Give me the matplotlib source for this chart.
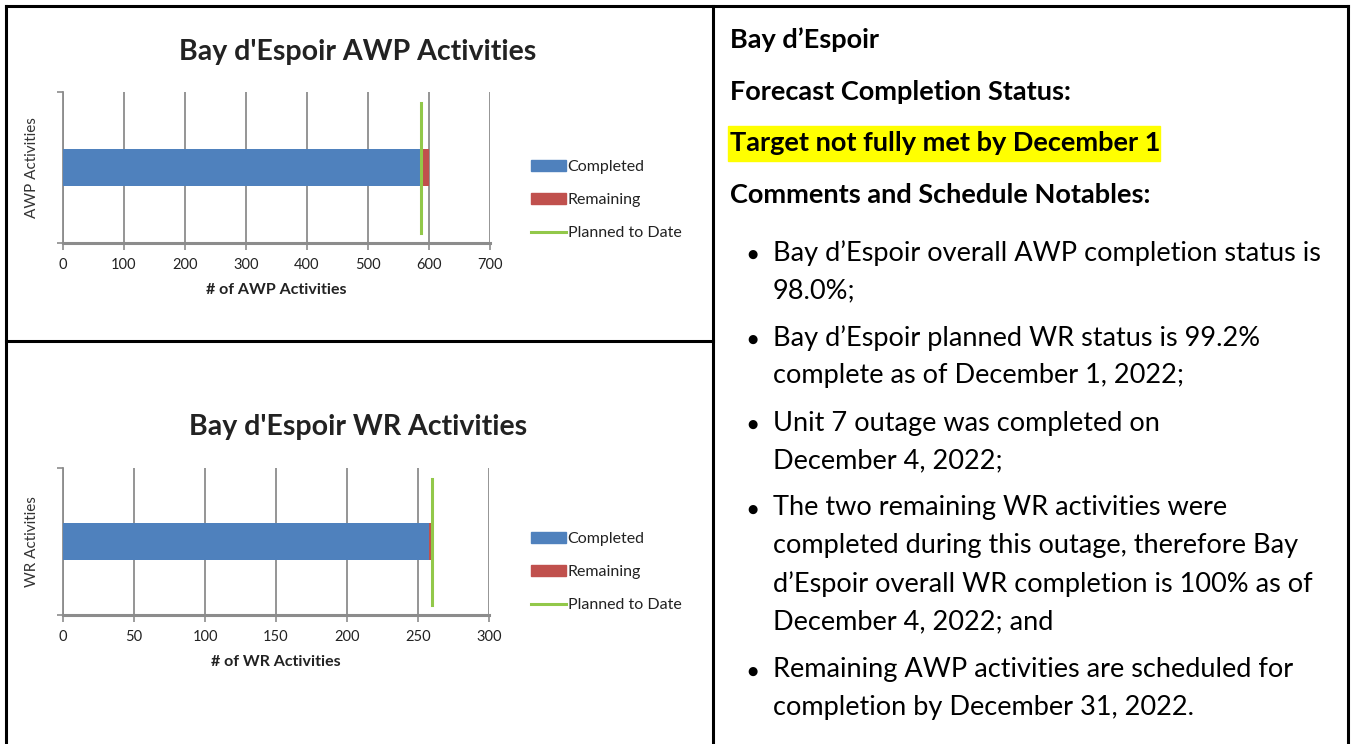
import numpy as np
import matplotlib
matplotlib.use("Agg")
import matplotlib.pyplot as plt
from matplotlib.patches import Patch, Rectangle
from matplotlib.lines import Line2D

# chart data
awp_completed = [588]
awp_remaining = [12]
awp_planned = [587]
awp_ticks = [0, 100, 200, 300, 400, 500, 600, 700]

wr_completed = [258]
wr_remaining = [2]
wr_planned = [260]
wr_ticks = [0, 50, 100, 150, 200, 250, 300]

legend_labels = ['Completed', 'Remaining', 'Planned to Date']

# right-hand text
head_lines = ['Bay d\u2019Espoir', 'Forecast Completion Status:']
highlight_line = 'Target not fully met by December 1'
comments_head = 'Comments and Schedule Notables:'
bullets = [
    ['Bay d\u2019Espoir overall AWP completion status is', '98.0%;'],
    ['Bay d\u2019Espoir planned WR status is 99.2%', 'complete as of December 1, 2022;'],
    ['Unit 7 outage was completed on', 'December 4, 2022;'],
    ['The two remaining WR activities were',
     'completed during this outage, therefore Bay',
     'd\u2019Espoir overall WR completion is 100% as of',
     'December 4, 2022; and'],
    ['Remaining AWP activities are scheduled for', 'completion by December 31, 2022.'],
]

W, H = 1351, 744
BLUE = '#4f81bd'
RED = '#c0504d'
GREEN = '#92c84a'
GRID = '#8c8c8c'
FONT = 'Lato'

plt.rcParams['font.family'] = [FONT, 'DejaVu Sans']

fig = plt.figure(figsize=(W / 100, H / 100), dpi=100)


def px_axes(x0, y0, x1, y1):
    return fig.add_axes([x0 / W, 1 - y1 / H, (x1 - x0) / W, (y1 - y0) / H])


def fx(x):
    return x / W


def fy(y):
    return 1 - y / H


def bar_chart(box, completed, remaining, planned, ticks, title, xlabel, ylabel,
              title_y, legend_y):
    ax = px_axes(*box)
    ax.barh([0], completed, height=0.245, color=BLUE, zorder=3)
    ax.barh([0], remaining, left=completed, height=0.245, color=RED, zorder=3)
    for p in planned:
        ax.plot([p, p], [-0.435, 0.428], color=GREEN, lw=2.2, zorder=4)
    ax.set_xlim(ticks[0], ticks[-1])
    ax.set_ylim(-0.5, 0.5)
    ax.set_xticks(ticks)
    ax.set_yticks([-0.5, 0.5])
    ax.set_yticklabels([])
    ax.tick_params(axis='y', length=4, color=GRID, width=1.2)
    ax.tick_params(axis='x', length=5, color=GRID, width=1.2, labelsize=10.5,
                   pad=6, labelcolor='#222222')
    ax.xaxis.grid(True, color=GRID, lw=1.3, zorder=0)
    for s in ['top', 'right']:
        ax.spines[s].set_visible(False)
    ax.spines['left'].set_color(GRID)
    ax.spines['left'].set_linewidth(1.3)
    ax.spines['bottom'].set_color(GRID)
    ax.spines['bottom'].set_linewidth(2.2)
    ax.set_xlabel(xlabel, fontsize=11.5, fontweight='bold', labelpad=8,
                  color='#222222')
    ax.set_ylabel(ylabel, fontsize=11, labelpad=10, color='#333333')
    fig.text(fx(358), fy(title_y), title, fontsize=20.5, fontweight='bold',
             ha='center', va='center', color='#222222')
    handles = [Patch(color=BLUE), Patch(color=RED),
               Line2D([0], [0], color=GREEN, lw=2.2)]
    fig.legend(handles, legend_labels, loc='center left',
               bbox_to_anchor=(fx(531), fy(legend_y)), frameon=False,
               fontsize=11.5, handlelength=2.2, handleheight=0.7,
               handletextpad=0.1, labelspacing=1.2, borderaxespad=0,
               borderpad=0, labelcolor='#222222')
    return ax


bar_chart((63, 92, 490, 243), awp_completed, awp_remaining, awp_planned,
          awp_ticks, "Bay d'Espoir AWP Activities", '# of AWP Activities',
          'AWP Activities', 52, 200)
bar_chart((63, 468, 489, 615), wr_completed, wr_remaining, wr_planned,
          wr_ticks, "Bay d'Espoir WR Activities", '# of WR Activities',
          'WR Activities', 427, 572)

# table borders
for (x0, y0, x1, y1) in [(6, 6, 1348, 6), (6, 6, 6, 744), (1348, 6, 1348, 744),
                         (713, 6, 713, 744), (6, 341, 713, 341)]:
    fig.add_artist(Line2D([fx(x0), fx(x1)], [fy(y0), fy(y1)], color='black',
                          lw=2.2, transform=fig.transFigure))

# right-hand text
TS = 19.5
tx = 730
fig.text(fx(tx), fy(40), head_lines[0], fontsize=TS, fontweight='bold', va='center')
fig.text(fx(tx), fy(92), head_lines[1], fontsize=TS, fontweight='bold', va='center')
fig.add_artist(Rectangle((fx(728), fy(161)), fx(1160 - 728), (161 - 126) / H,
                         color='#ffff00', transform=fig.transFigure, zorder=0))
fig.text(fx(tx), fy(143), highlight_line, fontsize=TS, fontweight='bold', va='center')
fig.text(fx(tx), fy(195), comments_head, fontsize=TS, fontweight='bold', va='center')

bullet_starts = [253, 338, 423, 508, 670]
line_gap = 38
for y0, lines in zip(bullet_starts, bullets):
    fig.text(fx(752), fy(y0 + 1), '\u25cf', fontsize=8.5, ha='center',
             va='center', family='DejaVu Sans')
    for i, line in enumerate(lines):
        fig.text(fx(773), fy(y0 + i * line_gap), line, fontsize=TS, va='center')

fig.savefig('out.png', dpi=100)
